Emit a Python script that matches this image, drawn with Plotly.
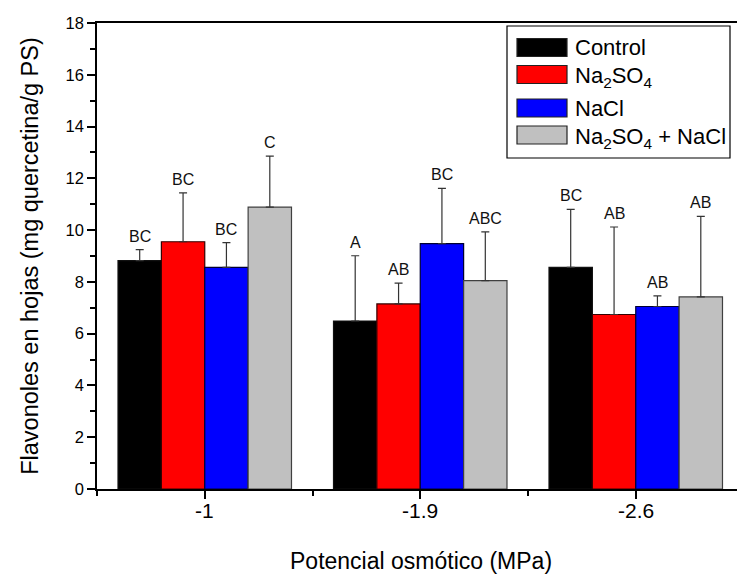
import plotly.graph_objects as go

# ---- data ----
categories = ["-1", "-1.9", "-2.6"]
series_names = ["Control", "Na<sub>2</sub>SO<sub>4</sub>", "NaCl", "Na<sub>2</sub>SO<sub>4</sub> + NaCl"]
means_control = [8.82, 6.49, 8.56]
means_na2so4 = [9.55, 7.15, 6.74]
means_nacl = [8.56, 9.48, 7.05]
means_mix = [10.89, 8.05, 7.42]
err_control = [0.43, 2.52, 2.24]
err_na2so4 = [1.89, 0.80, 3.38]
err_nacl = [0.96, 2.13, 0.41]
err_mix = [1.97, 1.88, 3.11]
letters_control = ["BC", "A", "BC"]
letters_na2so4 = ["BC", "AB", "AB"]
letters_nacl = ["BC", "BC", "AB"]
letters_mix = ["C", "ABC", "AB"]
y_ticks = [0, 2, 4, 6, 8, 10, 12, 14, 16, 18]
x_title = "Potencial osmótico (MPa)"
y_title = "Flavonoles en hojas (mg quercetina/g PS)"

means = [means_control, means_na2so4, means_nacl, means_mix]
errs = [err_control, err_na2so4, err_nacl, err_mix]
letters = [letters_control, letters_na2so4, letters_nacl, letters_mix]
colors = ["#000000", "#FF0000", "#0000FF", "#C0C0C0"]
edge_colors = ["#111111", "#330000", "#000033", "#404040"]

FONT = "Arial, Liberation Sans, sans-serif"
W, H = 737, 576
ML, MR, MT, MB = 97, 0, 23, 87
BARGAP = 0.195
x_pos = [i + 1 for i in range(len(categories))]

fig = go.Figure()
n = len(means)
for j in range(n):
    fig.add_trace(go.Bar(
        x=x_pos, y=means[j], name=series_names[j],
        marker=dict(color=colors[j], line=dict(color=edge_colors[j], width=1.2)),
        error_y=dict(type="data", symmetric=False, array=errs[j],
                     arrayminus=[0] * len(errs[j]), color="#333333",
                     thickness=1.2, width=4),
        showlegend=False,
    ))

# letters above error bars
bw = (1 - BARGAP) / n
annotations = []
for j in range(n):
    for i in range(len(categories)):
        annotations.append(dict(
            x=x_pos[i] + (j - (n - 1) / 2) * bw, y=means[j][i] + errs[j][i],
            xref="x", yref="y", text=letters[j][i], showarrow=False,
            yanchor="bottom", yshift=3,
            font=dict(family=FONT, size=16, color="#111111")))

# pixel helpers
pw = W - ML - MR
ph = H - MT - MB
def px(xp):
    return (xp - ML) / pw
def py(yp):
    return (H - MB - yp) / ph

# x tick labels as annotations (closer to the axis, as in the reference)
for i in range(len(categories)):
    annotations.append(dict(x=x_pos[i], y=py(510.5), xref="x", yref="paper",
                            text=categories[i], showarrow=False, yanchor="middle",
                            font=dict(family=FONT, size=21, color="#000000")))
annotations.append(dict(x=px(420.6), y=py(561), xref="paper", yref="paper",
                        text=x_title, showarrow=False, yanchor="middle",
                        font=dict(family=FONT, size=23, color="#000000")))

# custom legend
shapes = [dict(type="rect", xref="paper", yref="paper",
               x0=px(507), x1=px(730), y0=py(158), y1=py(26),
               line=dict(color="#000000", width=1.2), fillcolor="white", layer="above")]
row_centers = [47.5, 74.5, 108, 135]
for j in range(n):
    c = row_centers[j]
    shapes.append(dict(type="rect", xref="paper", yref="paper",
                       x0=px(517), x1=px(567), y0=py(c + 9), y1=py(c - 9),
                       line=dict(color="#222222", width=1.2), fillcolor=colors[j], layer="above"))
    annotations.append(dict(x=px(573), y=py(c), xref="paper", yref="paper",
                            text=series_names[j], showarrow=False, xanchor="left",
                            yanchor="middle", yshift=(-3 if "<sub>" in series_names[j] else 0),
                            font=dict(family=FONT, size=22, color="#000000")))

fig.update_layout(
    width=W, height=H,
    margin=dict(l=ML, r=MR, t=MT, b=MB, pad=0),
    paper_bgcolor="white", plot_bgcolor="white",
    barmode="group", bargap=BARGAP, bargroupgap=0,
    shapes=shapes, annotations=annotations,
    font=dict(family=FONT, color="#000000"),
)
fig.update_xaxes(
    range=[0.5, 0.5 + pw / 215.5],
    tickmode="array", tickvals=x_pos, ticktext=categories, showticklabels=False,
    ticks="outside", ticklen=8, tickwidth=1.5, tickcolor="#000000",
    minor=dict(tickvals=[0.5, 1.5, 2.5, 3.5], ticks="outside", ticklen=5, tickwidth=1.5, tickcolor="#000000"),
    showline=True, linecolor="#000000", linewidth=1.5, mirror=True,
    showgrid=False, zeroline=False,
)
fig.update_yaxes(
    range=[0, 18], tickmode="array", tickvals=y_ticks,
    ticks="outside", ticklen=8, tickwidth=1.5, tickcolor="#000000",
    minor=dict(dtick=1, tick0=0, ticks="outside", ticklen=5, tickwidth=1.5, tickcolor="#000000"),
    showline=True, linecolor="#000000", linewidth=1.5, mirror=False,
    showgrid=False, zeroline=False,
    tickfont=dict(family=FONT, size=16.5, color="#000000"),
    title=dict(text=y_title, font=dict(family=FONT, size=23.5, color="#000000"), standoff=20),
)

fig.write_html("out.html")
